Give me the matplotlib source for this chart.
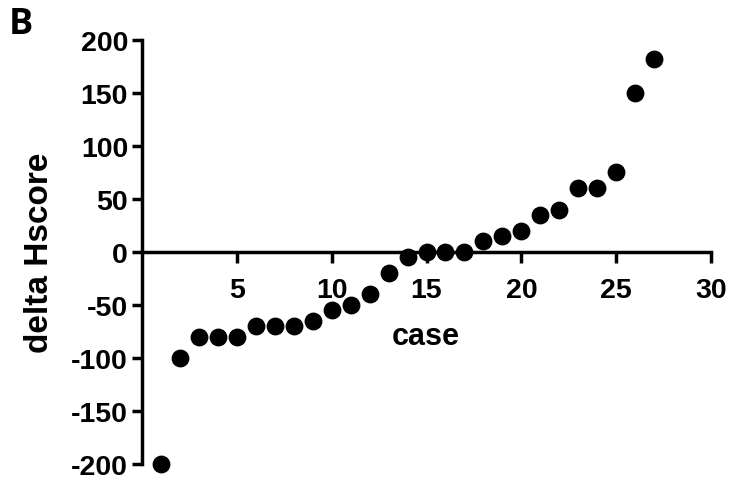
import matplotlib
matplotlib.use('agg')
import matplotlib.pyplot as plt

# Data
case = list(range(1, 28))
delta_hscore = [-200, -100, -80, -80, -80, -70, -70, -70, -65, -55,
                -50, -40, -20, -5, 0, 0, 0, 10, 15, 20,
                35, 40, 60, 60, 75, 150, 182]
x_ticks = [5, 10, 15, 20, 25, 30]
y_ticks = [-200, -150, -100, -50, 0, 50, 100, 150, 200]

plt.rcParams['font.family'] = ['Liberation Sans', 'DejaVu Sans']
plt.rcParams['font.weight'] = 'bold'
plt.rcParams['axes.unicode_minus'] = False

fig = plt.figure(figsize=(7.3, 4.85), dpi=100)
ax = fig.add_axes([0.1945, 0.0412, 0.7795, 0.8743])

ax.scatter(case, delta_hscore, s=140, color='black', clip_on=False, zorder=3)

ax.set_xlim(0, 30)
ax.set_ylim(-200, 200)
ax.set_xticks(x_ticks)
ax.set_yticks(y_ticks)

# Spines: x axis through zero, no box
ax.spines['bottom'].set_position(('data', 0))
ax.spines[['top', 'right']].set_visible(False)
for side in ['left', 'bottom']:
    ax.spines[side].set_linewidth(2.5)

ax.tick_params(axis='x', direction='out', length=8, width=2.5, pad=10, labelsize=20.5)
ax.tick_params(axis='y', direction='out', length=7, width=2.5, pad=3, labelsize=20.5)

# Axis labels
ax.set_xlabel('case', fontsize=22, fontweight='bold')
ax.xaxis.label.set_va('baseline')
ax.xaxis.set_label_coords(0.498, 0.283)
ax.set_ylabel('delta Hscore', fontsize=24, fontweight='bold')
ax.yaxis.set_label_coords(-0.153, 0.5)

# Panel letter
fig.text(0.012, 0.985, 'B', fontsize=26, fontweight='bold', va='top',
         family=['Open Sans', 'DejaVu Sans'])

plt.savefig('out.png', dpi=100)
